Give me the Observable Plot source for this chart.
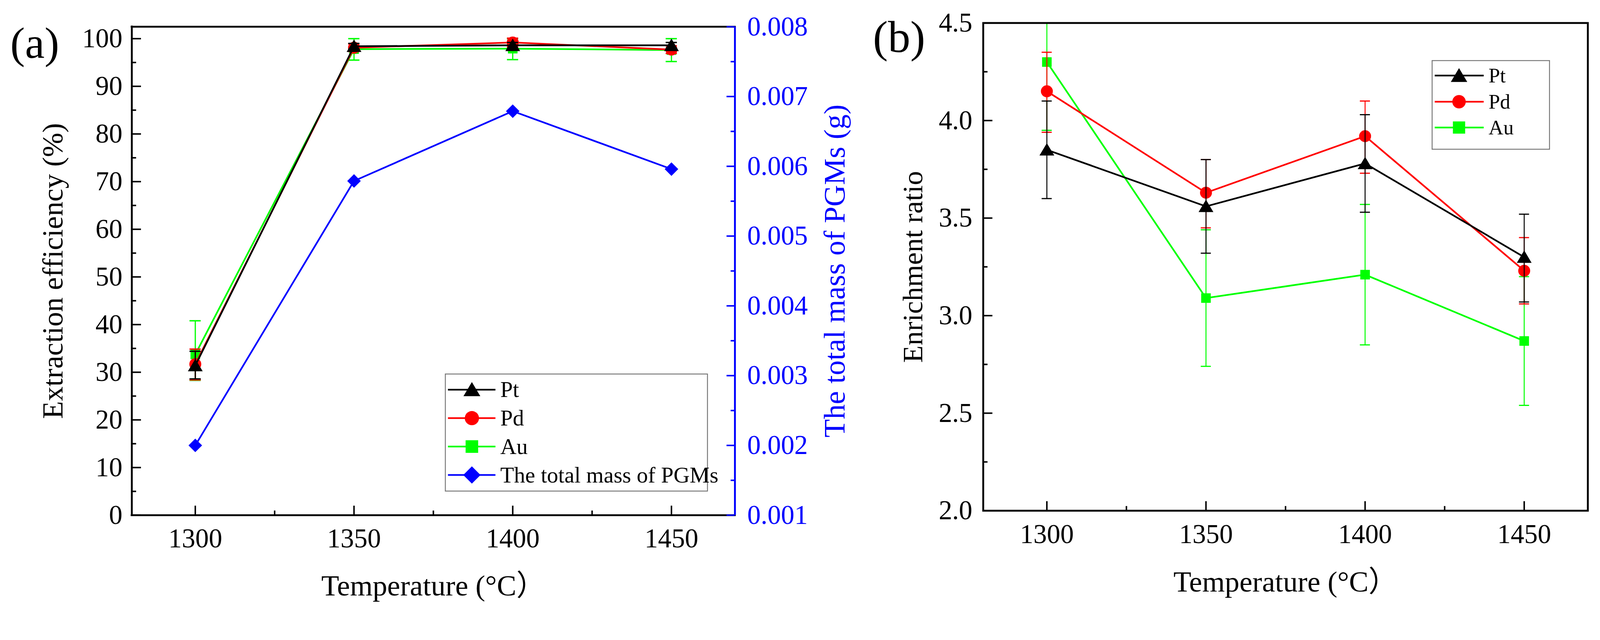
<!DOCTYPE html>
<html>
<head>
<meta charset="utf-8">
<script src="https://cdn.jsdelivr.net/npm/d3@7"></script>
<script src="https://cdn.jsdelivr.net/npm/@observablehq/plot@0.6"></script>
<style>
html, body { margin: 0; padding: 0; background: #fff; overflow: hidden; }
#root { position: relative; width: 4279px; height: 1638px; overflow: hidden; background: #fff; transform-origin: 0 0; }
#root > svg { position: absolute; top: 0; }
</style>
</head>
<body>
<div id="root"></div>
<script>
// ---------------- data ----------------
const temps = [1300, 1350, 1400, 1450];
const xTicks = [1300, 1350, 1400, 1450];
const xMinor = [1325, 1375, 1425];

// (a) extraction efficiency (%)
const ptEff   = [31.4, 98.4, 98.6, 98.6];
const ptEffLo = [28.6, 97.8, 98.0, 98.0];
const ptEffHi = [34.4, 99.0, 99.2, 99.2];
const pdEff   = [31.7, 98.1, 99.2, 97.7];
const pdEffLo = [28.4, 97.3, 98.3, 96.9];
const pdEffHi = [34.85, 98.9, 100.1, 98.5];
const auEff   = [33.75, 97.8, 97.9, 97.6];
const auEffLo = [28.3, 95.5, 95.6, 95.2];
const auEffHi = [40.8, 100.0, 100.0, 100.0];
// (a) total mass of PGMs (g)
const pgmMass = [0.00200, 0.00579, 0.00679, 0.00596];

const effTicks  = [0, 10, 20, 30, 40, 50, 60, 70, 80, 90, 100];
const effMinor  = [5, 15, 25, 35, 45, 55, 65, 75, 85, 95];
const massTicks = [0.001, 0.002, 0.003, 0.004, 0.005, 0.006, 0.007, 0.008];
const massMinor = [0.0015, 0.0025, 0.0035, 0.0045, 0.0055, 0.0065, 0.0075];

// (b) enrichment ratio
const ptER   = [3.85, 3.56, 3.78, 3.30];
const ptERLo = [3.60, 3.32, 3.53, 3.07];
const ptERHi = [4.10, 3.80, 4.03, 3.52];
const pdER   = [4.15, 3.63, 3.92, 3.23];
const pdERLo = [3.94, 3.45, 3.73, 3.06];
const pdERHi = [4.35, 3.80, 4.10, 3.40];
const auER   = [4.30, 3.09, 3.21, 2.87];
const auERLo = [3.95, 2.74, 2.85, 2.54];
const auERHi = [4.65, 3.44, 3.57, 3.20];

const erTicks = [2.0, 2.5, 3.0, 3.5, 4.0, 4.5];
const erMinor = [2.25, 2.75, 3.25, 3.75, 4.25];

// ---------------- helpers ----------------
const FONT = "'Liberation Serif', 'Times New Roman', 'Noto Sans CJK SC', serif";
const BLACK = "#000000", RED = "#ff0000", GREEN = "#00ff00", BLUE = "#0000ff";

const symTri = {draw(c, size) { const r = Math.sqrt(size / Math.PI); c.moveTo(0, -r); c.lineTo(1.1 * r, 0.85 * r); c.lineTo(-1.1 * r, 0.85 * r); c.closePath(); }};
const symSq  = {draw(c, size) { const r = Math.sqrt(size / Math.PI) * 0.8; c.rect(-r, -r, 2 * r, 2 * r); }};
const symDia = {draw(c, size) { const r = Math.sqrt(size / Math.PI) * 1.1; c.moveTo(0, -r); c.lineTo(r, 0); c.lineTo(0, r); c.lineTo(-r, 0); c.closePath(); }};
const symCir = {draw(c, size) { const r = Math.sqrt(size / Math.PI); c.moveTo(r, 0); c.arc(0, 0, r, 0, 2 * Math.PI); }};

function rows(v, lo, hi) {
  return temps.map((t, i) => ({t, v: v[i], lo: lo ? lo[i] : null, hi: hi ? hi[i] : null}));
}

function seriesMarks(data, color, sym, r, o = {}) {
  const ew = o.errWidth ?? 3.2, cap = o.cap ?? 15, lw = o.lineWidth ?? 4.5, clip = o.clip ?? false;
  return [
    Plot.ruleX(data, {x: "t", y1: "lo", y2: "hi", stroke: color, strokeWidth: ew, clip}),
    Plot.ruleY(data, {y: "lo", x1: "t", x2: "t", insetLeft: -cap, insetRight: -cap, stroke: color, strokeWidth: ew + 0.5, clip}),
    Plot.ruleY(data, {y: "hi", x1: "t", x2: "t", insetLeft: -cap, insetRight: -cap, stroke: color, strokeWidth: ew + 0.5, clip}),
    Plot.line(data, {x: "t", y: "v", stroke: color, strokeWidth: lw, clip}),
    Plot.dot(data, {x: "t", y: "v", symbol: sym, r, fill: color, stroke: "none"})
  ];
}

const root = document.getElementById("root");
const sc = Math.min(window.innerWidth / 4279, window.innerHeight / 1638);
root.style.transform = `scale(${sc})`;

// ---------------- panel (a) ----------------
const A = {left: 0, width: 2320, ml: 352, mr: 2320 - 1965, mt: 71, mb: 1638 - 1377};
const AFW = A.width - A.ml - A.mr, AFH = 1638 - A.mt - A.mb;
const xDom = [1280, 1470];
const effDom = [0, 102.5];

const panelA = Plot.plot({
  width: A.width, height: 1638,
  marginLeft: A.ml, marginRight: A.mr, marginTop: A.mt, marginBottom: A.mb,
  style: {background: "transparent", fontFamily: FONT, overflow: "visible", maxWidth: "none"},
  x: {domain: xDom},
  y: {domain: effDom},
  marks: [
    ...seriesMarks(rows(auEff, auEffLo, auEffHi), GREEN, symSq, 16),
    ...seriesMarks(rows(pdEff, pdEffLo, pdEffHi), RED, symCir, 16),
    ...seriesMarks(rows(ptEff, ptEffLo, ptEffHi), BLACK, symTri, 18),
    Plot.ruleY(effTicks, {y: d => d, insetRight: AFW - 25, stroke: BLACK, strokeWidth: 4}),
    Plot.ruleY(effMinor, {y: d => d, insetRight: AFW - 12, stroke: BLACK, strokeWidth: 4}),
    Plot.ruleX(xTicks, {x: d => d, insetTop: AFH - 25, stroke: BLACK, strokeWidth: 4}),
    Plot.ruleX(xMinor, {x: d => d, insetTop: AFH - 12, stroke: BLACK, strokeWidth: 4}),
    Plot.ruleY([effDom[0]], {y: d => d, stroke: BLACK, strokeWidth: 5, strokeLinecap: "square"}),
    Plot.ruleY([effDom[1]], {y: d => d, stroke: BLACK, strokeWidth: 5, strokeLinecap: "square"}),
    Plot.ruleX([xDom[0]], {x: d => d, stroke: BLACK, strokeWidth: 5, strokeLinecap: "square"}),
    Plot.axisX({ticks: xTicks, tickSize: 0, tickPadding: 35, fontSize: 72, tickFormat: d => String(d), label: null}),
    Plot.axisY({ticks: effTicks, tickSize: 0, tickPadding: 25, fontSize: 72, tickFormat: d => String(d), label: null}),
    Plot.text(["Extraction efficiency (%)"], {text: d => d, frameAnchor: "left", dx: 167 - A.ml, rotate: -90, textAnchor: "middle", lineAnchor: "bottom", fontSize: 78}),
    Plot.text(["Temperature (°C）"], {text: d => d, frameAnchor: "bottom", dy: 1592 - 1377, textAnchor: "middle", lineAnchor: "bottom", fontSize: 78}),
    Plot.text(["(a)"], {text: d => d, frameAnchor: "top-left", dx: 27 - A.ml, dy: 154 - A.mt, textAnchor: "start", lineAnchor: "bottom", fontSize: 118})
  ]
});
panelA.style.left = A.left + "px";
root.appendChild(panelA);

// overlay: right (blue) axis for total mass of PGMs
const massDom = [0.001, 0.008];
const panelA2 = Plot.plot({
  width: A.width, height: 1638,
  marginLeft: A.ml, marginRight: A.mr, marginTop: A.mt, marginBottom: A.mb,
  style: {background: "transparent", fontFamily: FONT, overflow: "visible", maxWidth: "none"},
  x: {domain: xDom, axis: null},
  y: {domain: massDom, axis: null},
  marks: [
    Plot.line(rows(pgmMass), {x: "t", y: "v", stroke: BLUE, strokeWidth: 4.5}),
    Plot.dot(rows(pgmMass), {x: "t", y: "v", symbol: symDia, r: 16.5, fill: BLUE, stroke: "none"}),
    Plot.ruleY(massTicks, {y: d => d, insetLeft: AFW - 22, stroke: BLUE, strokeWidth: 4}),
    Plot.ruleY(massMinor, {y: d => d, insetLeft: AFW - 11, stroke: BLUE, strokeWidth: 4}),
    Plot.ruleX([xDom[1]], {x: d => d, stroke: BLUE, strokeWidth: 5}),
    Plot.axisY({anchor: "right", ticks: massTicks, tickSize: 0, tickPadding: 33, fontSize: 72, tickFormat: d3.format(".3f"), color: BLUE, label: null}),
    Plot.text(["The total mass of PGMs (g)"], {text: d => d, frameAnchor: "right", dx: 2258 - 1965, rotate: -90, textAnchor: "middle", lineAnchor: "bottom", fontSize: 80, fill: BLUE})
  ]
});
panelA2.style.left = A.left + "px";
root.appendChild(panelA2);

// ---------------- panel (b) ----------------
const B = {left: 2320, width: 4279 - 2320, ml: 2629 - 2320, mr: 4279 - 4246, mt: 61, mb: 1638 - 1365};
const BFW = B.width - B.ml - B.mr, BFH = 1638 - B.mt - B.mb;
const erDom = [2.0, 4.5];

const panelB = Plot.plot({
  width: B.width, height: 1638,
  marginLeft: B.ml, marginRight: B.mr, marginTop: B.mt, marginBottom: B.mb,
  style: {background: "transparent", fontFamily: FONT, overflow: "visible", maxWidth: "none"},
  x: {domain: xDom},
  y: {domain: erDom},
  marks: [
    ...seriesMarks(rows(auER, auERLo, auERHi), GREEN, symSq, 16, {errWidth: 2.6, cap: 13.5, clip: true}),
    ...seriesMarks(rows(pdER, pdERLo, pdERHi), RED, symCir, 16, {errWidth: 2.6, cap: 13.5}),
    ...seriesMarks(rows(ptER, ptERLo, ptERHi), BLACK, symTri, 18, {errWidth: 2.6, cap: 13.5}),
    Plot.ruleY(erTicks, {y: d => d, insetRight: BFW - 25, stroke: BLACK, strokeWidth: 4}),
    Plot.ruleY(erMinor, {y: d => d, insetRight: BFW - 12, stroke: BLACK, strokeWidth: 4}),
    Plot.ruleX(xTicks, {x: d => d, insetTop: BFH - 25, stroke: BLACK, strokeWidth: 4}),
    Plot.ruleX(xMinor, {x: d => d, insetTop: BFH - 12, stroke: BLACK, strokeWidth: 4}),
    Plot.frame({stroke: BLACK, strokeWidth: 5}),
    Plot.axisX({ticks: xTicks, tickSize: 0, tickPadding: 35, fontSize: 72, tickFormat: d => String(d), label: null}),
    Plot.axisY({ticks: erTicks, tickSize: 0, tickPadding: 29, fontSize: 72, tickFormat: d3.format(".1f"), label: null}),
    Plot.text(["Enrichment ratio"], {text: d => d, frameAnchor: "left", dx: 2466 - 2629, rotate: -90, textAnchor: "middle", lineAnchor: "bottom", fontSize: 76}),
    Plot.text(["Temperature (°C）"], {text: d => d, frameAnchor: "bottom", dy: 1581 - 1365, textAnchor: "middle", lineAnchor: "bottom", fontSize: 78}),
    Plot.text(["(b)"], {text: d => d, frameAnchor: "top-left", dx: 2334 - 2629, dy: 138 - B.mt, textAnchor: "start", lineAnchor: "bottom", fontSize: 120})
  ]
});
panelB.style.left = B.left + "px";
root.appendChild(panelB);

// ---------------- legends ----------------
const legSvg = d3.select(root).append("svg")
  .attr("width", 4279).attr("height", 1638)
  .style("left", "0px").style("pointer-events", "none")
  .style("font-family", FONT);

function drawLegend(box, entries, o) {
  const g = legSvg.append("g");
  g.append("rect").attr("x", box[0]).attr("y", box[1]).attr("width", box[2] - box[0]).attr("height", box[3] - box[1])
    .attr("fill", "none").attr("stroke", "#777").attr("stroke-width", 2.5);
  entries.forEach((e, i) => {
    const y = o.rowY[i];
    g.append("line").attr("x1", o.lx1).attr("x2", o.lx2).attr("y1", y).attr("y2", y)
      .attr("stroke", e.color).attr("stroke-width", 4.5);
    g.append("path").attr("d", d3.symbol(e.sym, Math.PI * e.r * e.r)()).attr("transform", `translate(${o.mx},${y})`)
      .attr("fill", e.color);
    g.append("text").attr("x", o.tx).attr("y", y + 0.33 * o.fs).attr("font-size", o.fs).attr("fill", "#000").text(e.label);
  });
}

drawLegend([1191, 1000, 1892, 1313], [
  {label: "Pt", color: BLACK, sym: symTri, r: 20.5},
  {label: "Pd", color: RED, sym: symCir, r: 19},
  {label: "Au", color: GREEN, sym: symSq, r: 21},
  {label: "The total mass of PGMs", color: BLUE, sym: symDia, r: 21}
], {rowY: [1042, 1118, 1194, 1270], lx1: 1198, lx2: 1325, mx: 1262, tx: 1338, fs: 60});

drawLegend([3830, 162, 4144, 399], [
  {label: "Pt", color: BLACK, sym: symTri, r: 20},
  {label: "Pd", color: RED, sym: symCir, r: 18},
  {label: "Au", color: GREEN, sym: symSq, r: 20.5}
], {rowY: [202, 272, 341], lx1: 3837, lx2: 3968, mx: 3902, tx: 3981, fs: 55});
</script>
</body>
</html>
